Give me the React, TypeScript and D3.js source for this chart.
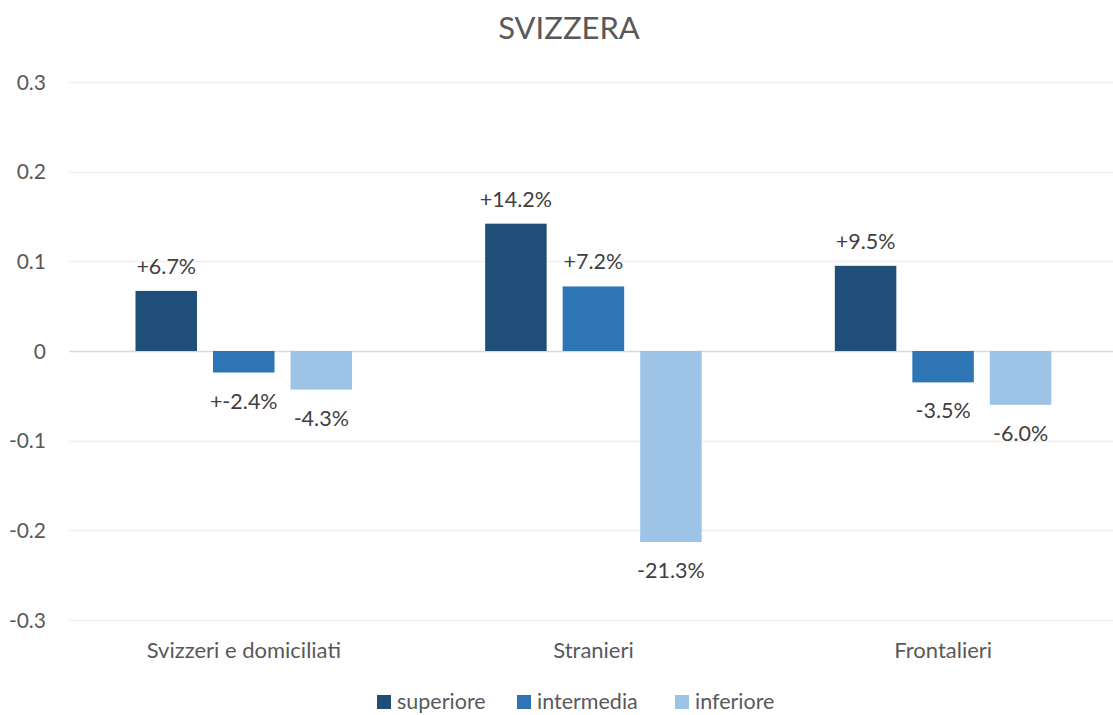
import { useRef, useEffect } from "react";
import * as d3 from "d3";

const title = "SVIZZERA";
const categories = ["Svizzeri e domiciliati", "Stranieri", "Frontalieri"];
const seriesNames = ["superiore", "intermedia", "inferiore"];
const seriesColors = ["#1f4e79", "#2e75b6", "#9dc3e6"];
const superiore = [0.067, 0.142, 0.095];
const intermedia = [-0.024, 0.072, -0.035];
const inferiore = [-0.043, -0.213, -0.06];
const superioreLabels = ["+6.7%", "+14.2%", "+9.5%"];
const intermediaLabels = ["+-2.4%", "+7.2%", "-3.5%"];
const inferioreLabels = ["-4.3%", "-21.3%", "-6.0%"];
const yTicks = [-0.3, -0.2, -0.1, 0, 0.1, 0.2, 0.3];

const FONT = "Lato, 'Open Sans', sans-serif";

export default function App() {
  const ref = useRef<SVGSVGElement>(null);

  useEffect(() => {
    const svg = d3.select(ref.current);
    svg.selectAll("*").remove();

    const width = 1113;
    const height = 715;

    const values = [superiore, intermedia, inferiore];
    const labels = [superioreLabels, intermediaLabels, inferioreLabels];

    const x0 = d3.scaleBand().domain(categories).range([69, 1118]).paddingInner(0);
    const x1 = d3.scaleBand()
      .domain(seriesNames)
      .range([66.5, 283])
      .paddingInner(0.2065)
      .paddingOuter(0);
    const y = d3.scaleLinear().domain([-0.3, 0.3]).range([620, 82]);

    svg.append("rect").attr("width", width).attr("height", height).attr("fill", "#fff");

    svg.append("text")
      .attr("x", 569)
      .attr("y", 39)
      .attr("text-anchor", "middle")
      .attr("font-family", FONT)
      .attr("font-size", 31)
      .attr("fill", "#595959")
      .text(title);

    // gridlines
    svg.append("g")
      .selectAll("line")
      .data(yTicks)
      .enter()
      .append("line")
      .attr("x1", 69)
      .attr("x2", width)
      .attr("y1", d => Math.round(y(d)) + 0.5)
      .attr("y2", d => Math.round(y(d)) + 0.5)
      .attr("stroke", d => (d === 0 ? "#d9d9d9" : "#f0f0f0"))
      .attr("stroke-width", 1.5);

    // y labels
    svg.append("g")
      .selectAll("text")
      .data(yTicks)
      .enter()
      .append("text")
      .attr("x", 46)
      .attr("y", d => y(d) + 7.5)
      .attr("text-anchor", "end")
      .attr("font-family", FONT)
      .attr("font-size", 21)
      .attr("fill", "#595959")
      .text(d => (d === 0 ? "0" : d3.format(".1f")(d).replace("\u2212", "-")));

    // category labels
    svg.append("g")
      .selectAll("text")
      .data(categories)
      .enter()
      .append("text")
      .attr("x", d => x0(d)! + x0.bandwidth() / 2)
      .attr("y", 658)
      .attr("text-anchor", "middle")
      .attr("font-family", FONT)
      .attr("font-size", 22)
      .attr("fill", "#595959")
      .text(d => d);

    // bars
    seriesNames.forEach((s, si) => {
      const g = svg.append("g");
      const rows = categories.map((c, ci) => ({ c, v: values[si][ci], label: labels[si][ci] }));
      g.selectAll("rect")
        .data(rows)
        .enter()
        .append("rect")
        .attr("x", d => x0(d.c)! + x1(s)!)
        .attr("y", d => y(Math.max(0, d.v)))
        .attr("width", x1.bandwidth())
        .attr("height", d => Math.abs(y(d.v) - y(0)))
        .attr("fill", seriesColors[si]);

      g.selectAll("text")
        .data(rows)
        .enter()
        .append("text")
        .attr("x", d => x0(d.c)! + x1(s)! + x1.bandwidth() / 2)
        .attr("y", d => (d.v >= 0 ? y(d.v) - 17 : y(d.v) + 36))
        .attr("text-anchor", "middle")
        .attr("font-family", FONT)
        .attr("font-size", 21.5)
        .attr("fill", "#404040")
        .text(d => d.label);
    });

    // legend
    const legendX = [377, 517, 675];
    const legend = svg.append("g");
    seriesNames.forEach((s, i) => {
      legend.append("rect")
        .attr("x", legendX[i])
        .attr("y", 695)
        .attr("width", 14)
        .attr("height", 14)
        .attr("fill", seriesColors[i]);
      legend.append("text")
        .attr("x", legendX[i] + 20)
        .attr("y", 709)
        .attr("font-family", FONT)
        .attr("font-size", 21.5)
        .attr("fill", "#595959")
        .text(s);
    });
  }, []);

  return <svg ref={ref} width={1113} height={715} style={{ position: "absolute", left: 0, top: 0 }}></svg>;
}
